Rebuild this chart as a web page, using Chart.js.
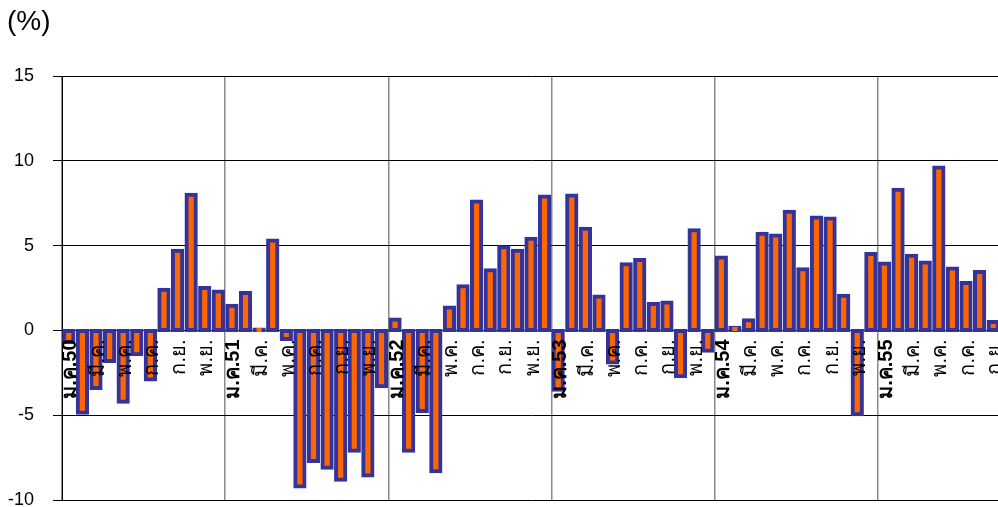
<!DOCTYPE html>
<html>
<head>
<meta charset="utf-8">
<script src="https://cdn.jsdelivr.net/npm/chart.js@4.4.0/dist/chart.umd.min.js"></script>
<style>
    html, body { margin: 0; padding: 0; background: #fff; overflow: hidden; }
    #wrap { width: 1000px; height: 507px; }
</style>
</head>
<body>
<div id="wrap"><canvas id="chart" width="1000" height="507"></canvas></div>
<script>
// ชื่อเดือนและปี (พ.ศ. ย่อ)
const monthNames = ['ม.ค.', 'ก.พ.', 'มี.ค.', 'เม.ย.', 'พ.ค.', 'มิ.ย.', 'ก.ค.', 'ส.ค.', 'ก.ย.', 'ต.ค.', 'พ.ย.', 'ธ.ค.'];
const years = ['50', '51', '52', '53', '54', '55'];

// ค่ารายเดือน (%) ม.ค.50 - ก.ย.55
const values50 = [-0.7, -4.85, -3.4, -1.8, -4.2, -1.4, -2.9, 2.4, 4.7, 8.0, 2.5, 2.3];
const values51 = [1.45, 2.2, 0.05, 5.3, -0.5, -9.2, -7.7, -8.1, -8.8, -7.1, -8.55, -3.3];
const values52 = [0.65, -7.1, -4.75, -8.3, 1.35, 2.6, 7.6, 3.55, 4.9, 4.7, 5.4, 7.9];
const values53 = [-3.5, 7.95, 6.0, 2.0, -1.9, 3.9, 4.15, 1.55, 1.65, -2.7, 5.9, -1.2];
const values54 = [4.3, 0.15, 0.6, 5.7, 5.6, 7.0, 3.6, 6.65, 6.6, 2.05, -4.95, 4.5];
const values55 = [3.95, 8.3, 4.4, 4.0, 9.6, 3.65, 2.8, 3.45, 0.5];

// แกน Y
const yTicks = [-10, -5, 0, 5, 10, 15];

const values = [].concat(values50, values51, values52, values53, values54, values55);

// ป้ายหมวดหมู่: ม.ค. มีปีต่อท้าย
const labels = [];
years.forEach(y => {
    monthNames.forEach((m, i) => {
        if (labels.length < values.length) {
            labels.push(i === 0 ? m + y : m);
        }
    });
});

const FONT = '"Liberation Sans", Arial, sans-serif';

// ตัดระยะขอบที่สเกลขอไว้ ให้พื้นที่กราฟชิดขอบ
function noPadding(scale) {
    scale.paddingLeft = 0;
    scale.paddingRight = 0;
    scale.paddingTop = 0;
    scale.paddingBottom = 0;
}

// ข้อความ (%) มุมซ้ายบน
const unitLabel = {
    id: 'unitLabel',
    afterDraw(chart) {
        const ctx = chart.ctx;
        ctx.save();
        ctx.font = '28px ' + FONT;
        ctx.fillStyle = '#000';
        ctx.textBaseline = 'middle';
        ctx.textAlign = 'left';
        ctx.fillText('(%)', 7, 22);
        ctx.restore();
    }
};

new Chart(document.getElementById('chart'), {
    type: 'bar',
    data: {
        labels: labels,
        datasets: [{
            data: values,
            xAxisID: 'x',
            backgroundColor: '#FF6600',
            borderColor: '#333399',
            borderWidth: 4,
            borderSkipped: false,
            inflateAmount: 2,
            barPercentage: 0.68,
            categoryPercentage: 1.0
        }]
    },
    options: {
        responsive: false,
        animation: false,
        layout: { padding: { top: 76, bottom: 7, left: 0, right: 0 } },
        plugins: {
            legend: { display: false },
            tooltip: { enabled: false },
            title: { display: false }
        },
        scales: {
            x: {
                position: { y: 0 },
                offset: true,
                afterFit: noPadding,
                grid: {
                    offset: true,
                    drawTicks: false,
                    color: ctx => (ctx.index % 12 === 0 ? '#8a8a8a' : 'rgba(0,0,0,0)'),
                    lineWidth: 1.5
                },
                border: { display: false },
                ticks: { display: false, autoSkip: false }
            },
            // แกนสำหรับป้ายเดือน วาดทับแท่ง
            x2: {
                type: 'category',
                position: { y: 0 },
                offset: true,
                afterFit: noPadding,
                grid: { display: false, drawTicks: false },
                border: { display: false },
                ticks: {
                    z: 1,
                    autoSkip: false,
                    maxRotation: 90,
                    minRotation: 90,
                    padding: 9,
                    labelOffset: 2,
                    color: '#000',
                    font: ctx => (ctx.index % 12 === 0
                        ? { family: FONT, size: 20, weight: 'bold' }
                        : { family: FONT, size: 20, weight: 'normal' }),
                    callback: function (val, index) {
                        return index % 2 === 0 ? this.getLabelForValue(val) : '';
                    }
                }
            },
            y: {
                min: yTicks[0],
                max: yTicks[yTicks.length - 1],
                afterBuildTicks: scale => {
                    scale.ticks = yTicks.map(v => ({ value: v }));
                },
                afterFit: scale => {
                    scale.width = 62;
                    noPadding(scale);
                },
                grid: { color: '#000', lineWidth: 1, tickLength: 9 },
                border: { display: true, color: '#000', width: 1 },
                ticks: {
                    padding: 19,
                    color: '#000',
                    font: { family: FONT, size: 18, lineHeight: 0.7 }
                }
            }
        }
    },
    plugins: [unitLabel]
});
</script>
</body>
</html>
